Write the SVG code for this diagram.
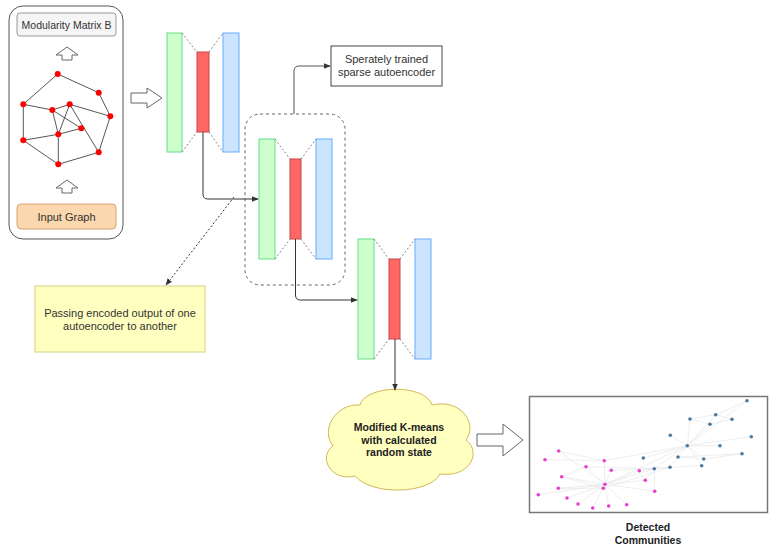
<svg xmlns="http://www.w3.org/2000/svg" width="776" height="556" viewBox="0 0 776 556">
<style>
text{font-family:"Liberation Sans",Arial,sans-serif;fill:#333;text-anchor:middle}
.t11{font-size:11px}
.b{font-weight:bold;fill:#222}
.green{fill:#ccffcc;stroke:#66dd88;stroke-width:1}
.red{fill:#ff6666;stroke:#c84848;stroke-width:1}
.blue{fill:#cce5ff;stroke:#66aaff;stroke-width:1}
.dash{stroke:#888;stroke-width:1;stroke-dasharray:2 2;fill:none}
.conn{stroke:#333;stroke-width:1;fill:none}
.blk{fill:#fff;stroke:#666;stroke-width:1}
.ge{stroke:#444;stroke-width:0.9}
.gn{fill:#ff0000}
.ce{stroke:#e2e2e2;stroke-width:0.6}
.pn{fill:#e83ed0}
.bn{fill:#4a7aa0}
</style>
<defs>
<marker id="arr" viewBox="0 0 10 10" refX="9" refY="5" markerWidth="7" markerHeight="7" orient="auto" markerUnits="userSpaceOnUse">
<path d="M0,1 L10,5 L0,9 Z" fill="#333"/>
</marker>
</defs>

<g id="input-panel">
<rect x="9" y="6" width="114" height="233" rx="14" fill="#fff" stroke="#555" stroke-width="1"/>
<rect x="17" y="13" width="99" height="23" rx="3" fill="#f5f5f5" stroke="#999"/>
<text class="t11" style="font-size:10.5px" x="66.5" y="28.5">Modularity Matrix B</text>
<path class="blk" d="M67,47 L78,55 L72,55 L72,60 L62,60 L62,55 L56,55 Z"/>
<g id="graph">
<line class="ge" x1="57.7" y1="74" x2="98.7" y2="92.7"/>
<line class="ge" x1="57.7" y1="74" x2="23.3" y2="104.3"/>
<line class="ge" x1="98.7" y1="92.7" x2="110.3" y2="116.3"/>
<line class="ge" x1="23.3" y1="104.3" x2="52.3" y2="110"/>
<line class="ge" x1="52.3" y1="110" x2="69.7" y2="104.3"/>
<line class="ge" x1="69.7" y1="104.3" x2="110.3" y2="116.3"/>
<line class="ge" x1="23.3" y1="104.3" x2="23.3" y2="140.3"/>
<line class="ge" x1="52.3" y1="110" x2="81.3" y2="128.3"/>
<line class="ge" x1="52.3" y1="110" x2="58.3" y2="134.3"/>
<line class="ge" x1="69.7" y1="104.3" x2="58.3" y2="134.3"/>
<line class="ge" x1="69.7" y1="104.3" x2="98.7" y2="152.3"/>
<line class="ge" x1="110.3" y1="116.3" x2="98.7" y2="152.3"/>
<line class="ge" x1="23.3" y1="140.3" x2="58.3" y2="134.3"/>
<line class="ge" x1="58.3" y1="134.3" x2="81.3" y2="128.3"/>
<line class="ge" x1="58.3" y1="134.3" x2="58.3" y2="164.3"/>
<line class="ge" x1="23.3" y1="140.3" x2="58.3" y2="164.3"/>
<line class="ge" x1="58.3" y1="164.3" x2="98.7" y2="152.3"/>
<circle class="gn" cx="57.7" cy="74" r="3"/>
<circle class="gn" cx="98.7" cy="92.7" r="3"/>
<circle class="gn" cx="23.3" cy="104.3" r="3"/>
<circle class="gn" cx="52.3" cy="110" r="3"/>
<circle class="gn" cx="69.7" cy="104.3" r="3"/>
<circle class="gn" cx="110.3" cy="116.3" r="3"/>
<circle class="gn" cx="81.3" cy="128.3" r="3"/>
<circle class="gn" cx="58.3" cy="134.3" r="3"/>
<circle class="gn" cx="23.3" cy="140.3" r="3"/>
<circle class="gn" cx="98.7" cy="152.3" r="3"/>
<circle class="gn" cx="58.3" cy="164.3" r="3"/>
</g>
<path class="blk" d="M67,180 L78,188 L72,188 L72,193 L62,193 L62,188 L56,188 Z"/>
<rect x="17" y="204" width="99" height="25" rx="4" fill="#fad7ac" stroke="#d8a070"/>
<text class="t11" x="66.5" y="220.5">Input Graph</text>
</g>

<g id="arrow-to-ae">
<path class="blk" d="M131,93 L147,93 L147,88 L162,98 L147,108 L147,103 L131,103 Z"/>
</g>

<g id="ae1">
<rect class="green" x="167" y="33" width="15" height="119"/>
<rect class="red" x="197" y="52" width="12" height="80"/>
<rect class="blue" x="223" y="33" width="16" height="119"/>
<path class="dash" d="M182,33 L197,52 M209,52 L223,33 M182,152 L197,132 M209,132 L223,152"/>
</g>

<g id="ae2-group">
<rect x="245" y="114" width="100" height="171" rx="15" fill="none" stroke="#666" stroke-dasharray="3 3"/>
</g>

<g id="ae2">
<rect class="green" x="259" y="139" width="16" height="120"/>
<rect class="red" x="290" y="159" width="11" height="80"/>
<rect class="blue" x="316" y="139" width="16" height="120"/>
<path class="dash" d="M275,139 L290,159 M301,159 L316,139 M275,259 L290,239 M301,239 L316,259"/>
</g>

<g id="ae3">
<rect class="green" x="358" y="239" width="16" height="120"/>
<rect class="red" x="389" y="259" width="11" height="80"/>
<rect class="blue" x="415" y="239" width="16" height="120"/>
<path class="dash" d="M374,239 L389,259 M400,259 L415,239 M374,359 L389,339 M400,339 L415,359"/>
</g>

<g id="label-sparse">
<rect x="331" y="46" width="111" height="40" fill="#fff" stroke="#444"/>
<text class="t11" x="386.5" y="63">Sperately trained</text>
<text class="t11" x="386.5" y="76">sparse autoencoder</text>
</g>

<g id="note">
<rect x="35" y="286" width="170" height="66" fill="#ffffc0" stroke="#d6d080"/>
<text class="t11" x="120" y="317">Passing encoded output of one</text>
<text class="t11" x="120" y="330">autoencoder to another</text>
</g>

<g id="kmeans">
<path d="M360,405 C365,385 425,383 432,405 C462,398 478,425 466,440 C482,452 470,478 440,474 C430,494 372,496 355,476 C330,482 318,456 333,446 C320,430 336,403 360,405 Z" fill="#ffffc0" stroke="#d6b656" stroke-width="1"/>
<text class="t11 b" style="font-size:10.5px" x="399" y="431">Modified K-means</text>
<text class="t11 b" style="font-size:10.5px" x="399" y="444">with calculated</text>
<text class="t11 b" style="font-size:10.5px" x="399" y="456">random state</text>
</g>

<g id="arrow-to-result">
<path class="blk" d="M477,434 L503,434 L503,424 L523,440 L503,456 L503,446 L477,446 Z"/>
</g>

<g id="communities">
<rect x="529.5" y="396.5" width="238" height="116" fill="#fff" stroke="#777" stroke-width="1.5"/>
<g id="comm-edges">
<line class="ce" x1="605" y1="484.3" x2="558.7" y2="451"/>
<line class="ce" x1="605" y1="484.3" x2="604.3" y2="460.7"/>
<line class="ce" x1="605" y1="484.3" x2="586" y2="466.7"/>
<line class="ce" x1="605" y1="484.3" x2="561.7" y2="476.7"/>
<line class="ce" x1="605" y1="484.3" x2="558.3" y2="488.3"/>
<line class="ce" x1="605" y1="484.3" x2="538.3" y2="494.7"/>
<line class="ce" x1="605" y1="484.3" x2="567" y2="498"/>
<line class="ce" x1="605" y1="484.3" x2="578" y2="504"/>
<line class="ce" x1="605" y1="484.3" x2="592.7" y2="508"/>
<line class="ce" x1="605" y1="484.3" x2="608.7" y2="506"/>
<line class="ce" x1="605" y1="484.3" x2="626.7" y2="504.7"/>
<line class="ce" x1="605" y1="484.3" x2="645.3" y2="480.3"/>
<line class="ce" x1="605" y1="484.3" x2="639.3" y2="470.7"/>
<line class="ce" x1="605" y1="484.3" x2="654.7" y2="491.3"/>
<line class="ce" x1="605" y1="484.3" x2="654.3" y2="468.7"/>
<line class="ce" x1="605" y1="484.3" x2="687.3" y2="445.7"/>
<line class="ce" x1="603.3" y1="488.3" x2="611.3" y2="470.3"/>
<line class="ce" x1="603.3" y1="488.3" x2="558.3" y2="488.3"/>
<line class="ce" x1="603.3" y1="488.3" x2="561.7" y2="476.7"/>
<line class="ce" x1="603.3" y1="488.3" x2="670" y2="467.3"/>
<line class="ce" x1="545" y1="459.7" x2="604.3" y2="460.7"/>
<line class="ce" x1="558.7" y1="451" x2="604.3" y2="460.7"/>
<line class="ce" x1="561.7" y1="476.7" x2="586" y2="466.7"/>
<line class="ce" x1="604.3" y1="460.7" x2="687.3" y2="445.7"/>
<line class="ce" x1="586" y1="466.7" x2="654.3" y2="468.7"/>
<line class="ce" x1="611.3" y1="470.3" x2="670" y2="467.3"/>
<line class="ce" x1="639.3" y1="470.7" x2="654.3" y2="468.7"/>
<line class="ce" x1="645.3" y1="480.3" x2="654.3" y2="468.7"/>
<line class="ce" x1="654.3" y1="468.7" x2="654.7" y2="491.3"/>
<line class="ce" x1="654.3" y1="468.7" x2="670" y2="467.3"/>
<line class="ce" x1="654.3" y1="468.7" x2="687.3" y2="445.7"/>
<line class="ce" x1="643.3" y1="458" x2="687.3" y2="445.7"/>
<line class="ce" x1="670" y1="467.3" x2="701.7" y2="465.7"/>
<line class="ce" x1="670" y1="467.3" x2="678" y2="457"/>
<line class="ce" x1="678" y1="457" x2="687.3" y2="445.7"/>
<line class="ce" x1="678" y1="457" x2="703.7" y2="459"/>
<line class="ce" x1="678" y1="457" x2="742" y2="453.7"/>
<line class="ce" x1="687.3" y1="445.7" x2="670.3" y2="435.3"/>
<line class="ce" x1="687.3" y1="445.7" x2="690" y2="419"/>
<line class="ce" x1="687.3" y1="445.7" x2="710" y2="424.3"/>
<line class="ce" x1="687.3" y1="445.7" x2="715.7" y2="414.7"/>
<line class="ce" x1="687.3" y1="445.7" x2="747" y2="400.7"/>
<line class="ce" x1="687.3" y1="445.7" x2="751.3" y2="436.7"/>
<line class="ce" x1="687.3" y1="445.7" x2="720" y2="445.7"/>
<line class="ce" x1="687.3" y1="445.7" x2="703.7" y2="459"/>
<line class="ce" x1="687.3" y1="445.7" x2="701.7" y2="465.7"/>
<line class="ce" x1="690" y1="419" x2="715.7" y2="414.7"/>
<line class="ce" x1="690" y1="419" x2="710" y2="424.3"/>
<line class="ce" x1="715.7" y1="414.7" x2="732" y2="419.3"/>
<line class="ce" x1="710" y1="424.3" x2="732" y2="419.3"/>
<line class="ce" x1="715.7" y1="414.7" x2="747" y2="400.7"/>
<line class="ce" x1="703.7" y1="459" x2="742" y2="453.7"/>
</g>
<g id="comm-nodes">
<circle class="bn" cx="747" cy="400.7" r="1.8"/>
<circle class="bn" cx="715.7" cy="414.7" r="1.8"/>
<circle class="bn" cx="690" cy="419" r="1.8"/>
<circle class="bn" cx="732" cy="419.3" r="1.8"/>
<circle class="bn" cx="710" cy="424.3" r="1.8"/>
<circle class="bn" cx="670.3" cy="435.3" r="1.8"/>
<circle class="bn" cx="751.3" cy="436.7" r="1.8"/>
<circle class="bn" cx="720" cy="445.7" r="1.8"/>
<circle class="bn" cx="687.3" cy="445.7" r="1.8"/>
<circle class="bn" cx="742" cy="453.7" r="1.8"/>
<circle class="bn" cx="678" cy="457" r="1.8"/>
<circle class="bn" cx="643.3" cy="458" r="1.8"/>
<circle class="bn" cx="703.7" cy="459" r="1.8"/>
<circle class="bn" cx="701.7" cy="465.7" r="1.8"/>
<circle class="bn" cx="670" cy="467.3" r="1.8"/>
<circle class="bn" cx="654.3" cy="468.7" r="1.8"/>
<circle class="pn" cx="558.7" cy="451" r="1.8"/>
<circle class="pn" cx="545" cy="459.7" r="1.8"/>
<circle class="pn" cx="604.3" cy="460.7" r="1.8"/>
<circle class="pn" cx="586" cy="466.7" r="1.8"/>
<circle class="pn" cx="611.3" cy="470.3" r="1.8"/>
<circle class="pn" cx="639.3" cy="470.7" r="1.8"/>
<circle class="pn" cx="561.7" cy="476.7" r="1.8"/>
<circle class="pn" cx="645.3" cy="480.3" r="1.8"/>
<circle class="pn" cx="605" cy="484.3" r="1.8"/>
<circle class="pn" cx="603.3" cy="488.3" r="1.8"/>
<circle class="pn" cx="558.3" cy="488.3" r="1.8"/>
<circle class="pn" cx="654.7" cy="491.3" r="1.8"/>
<circle class="pn" cx="538.3" cy="494.7" r="1.8"/>
<circle class="pn" cx="567" cy="498" r="1.8"/>
<circle class="pn" cx="578" cy="504" r="1.8"/>
<circle class="pn" cx="608.7" cy="506" r="1.8"/>
<circle class="pn" cx="626.7" cy="504.7" r="1.8"/>
<circle class="pn" cx="592.7" cy="508" r="1.8"/>
</g>
<text class="b" style="font-size:10.5px" x="648" y="531">Detected</text>
<text class="b" style="font-size:10.5px" x="648" y="544">Communities</text>
</g>

<g id="connectors">
<path class="conn" d="M203,132 L203,194 Q203,199 208,199 L258,199" marker-end="url(#arr)"/>
<path class="conn" d="M295.5,239 L295.5,295 Q295.5,300 300.5,300 L357,300" marker-end="url(#arr)"/>
<path d="M294,114 L294,71 Q294,66 299,66 L330,66" fill="none" stroke="#555" stroke-width="1" marker-end="url(#arr)"/>
<path d="M234,197 L166,285" fill="none" stroke="#333" stroke-width="1" stroke-dasharray="2 2" marker-end="url(#arr)"/>
<path class="conn" d="M395,339 L395,390" marker-end="url(#arr)"/>
</g>
</svg>
